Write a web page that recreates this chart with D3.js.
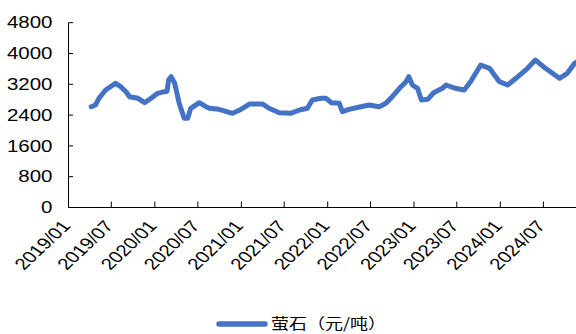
<!DOCTYPE html>
<html>
<head>
<meta charset="utf-8">
<script src="https://cdn.jsdelivr.net/npm/d3@7"></script>
<style>
  html, body { margin: 0; padding: 0; background: #fff; }
  svg { display: block; }
  text { font-family: Arial, "Liberation Sans", sans-serif; fill: #000; }
</style>
</head>
<body>
<svg id="chart" width="576" height="334"></svg>
<script>
// Fluorite price (yuan/ton), observation dates and values
const dates = [
  "2019-04-07","2019-04-25","2019-05-10","2019-06-07","2019-07-19","2019-08-10",
  "2019-09-01","2019-09-16","2019-10-22","2019-11-19","2019-12-16","2020-01-13",
  "2020-02-10","2020-02-22","2020-02-28","2020-03-10","2020-03-25","2020-04-13",
  "2020-05-04","2020-05-19","2020-06-01","2020-07-07","2020-08-04","2020-08-19",
  "2020-09-28","2020-11-25","2020-12-25","2021-02-04","2021-04-01","2021-04-28",
  "2021-06-10","2021-07-28","2021-09-04","2021-10-07","2021-10-28","2021-12-04",
  "2021-12-25","2022-01-16","2022-02-19","2022-03-04","2022-04-01","2022-05-01",
  "2022-06-25","2022-08-07","2022-09-04","2022-10-01","2022-11-07","2022-11-28",
  "2022-12-10","2022-12-25","2023-01-16","2023-02-01","2023-02-28","2023-03-25",
  "2023-05-01","2023-05-16","2023-06-25","2023-08-01","2023-08-28","2023-10-10",
  "2023-11-16","2023-12-28","2024-02-01","2024-03-07","2024-04-25","2024-05-28",
  "2024-07-10","2024-09-07","2024-10-10","2024-11-10","2024-11-25"
];
const prices = [
  2618,2662,2836,3052,3226,3138,
  3008,2878,2836,2722,2836,2966,
  3008,3020,3312,3397,3226,2706,
  2317,2317,2577,2722,2618,2577,
  2550,2447,2532,2688,2688,2577,
  2462,2447,2532,2577,2792,2836,
  2836,2722,2706,2488,2550,2592,
  2662,2618,2706,2878,3138,3268,
  3397,3182,3096,2792,2810,2981,
  3096,3182,3096,3052,3268,3701,
  3615,3268,3182,3356,3615,3831,
  3615,3356,3486,3745,3800
];
const yTicks = [0, 800, 1600, 2400, 3200, 4000, 4800];
const xTickLabels = ["2019/01","2019/07","2020/01","2020/07","2021/01","2021/07",
                     "2022/01","2022/07","2023/01","2023/07","2024/01","2024/07"];
const seriesName = "萤石（元/吨）";

const parse = d3.timeParse("%Y-%m-%d");
const parseTick = d3.timeParse("%Y/%m");
const data = dates.map((d, i) => ({ date: parse(d), value: prices[i] }));

const svg = d3.select("#chart");
const stretch = 1.28; // horizontal widening of the text glyphs

const x = d3.scaleTime()
  .domain([new Date(2019, 0, 1), new Date(2025, 0, 1)])
  .range([68.5, 586.9]);
const y = d3.scaleLinear()
  .domain([0, 4800])
  .range([207.5, 22.7]);

// Axes
const axisColor = "#000";
svg.append("line")
  .attr("x1", x.range()[0]).attr("x2", 576)
  .attr("y1", y(0)).attr("y2", y(0))
  .attr("stroke", axisColor).attr("stroke-width", 1);
svg.append("line")
  .attr("x1", x.range()[0]).attr("x2", x.range()[0])
  .attr("y1", y(0)).attr("y2", y(4800))
  .attr("stroke", axisColor).attr("stroke-width", 1);

// Y ticks and labels
const yg = svg.append("g");
yTicks.forEach(t => {
  yg.append("line")
    .attr("x1", x.range()[0]).attr("x2", x.range()[0] + 4.5)
    .attr("y1", y(t)).attr("y2", y(t))
    .attr("stroke", axisColor);
  yg.append("text")
    .attr("transform", `translate(52.5,${y(t)}) scale(${stretch},1)`)
    .attr("text-anchor", "end")
    .attr("dy", "0.36em")
    .attr("font-size", 16)
    .text(d3.format("d")(t));
});

// X ticks and rotated labels
const xg = svg.append("g");
xTickLabels.forEach(lbl => {
  const xv = x(parseTick(lbl));
  xg.append("line")
    .attr("x1", xv).attr("x2", xv)
    .attr("y1", y(0)).attr("y2", y(0) - 6)
    .attr("stroke", axisColor);
  xg.append("text")
    .attr("transform", `translate(${xv + 3},${y(0) + 19}) scale(${stretch},1) rotate(-50)`)
    .attr("text-anchor", "end")
    .attr("font-size", 16)
    .text(lbl);
});

// Price line
const line = d3.line()
  .x(d => x(d.date))
  .y(d => y(d.value))
  .curve(d3.curveLinear);

svg.append("path")
  .datum(data)
  .attr("d", line)
  .attr("fill", "none")
  .attr("stroke", "#4472C4")
  .attr("stroke-width", 5)
  .attr("stroke-linejoin", "round")
  .attr("stroke-linecap", "round");

// Legend
const lg = svg.append("g").attr("transform", "translate(0,324)");
lg.append("line")
  .attr("x1", 219).attr("x2", 265)
  .attr("y1", 0).attr("y2", 0)
  .attr("stroke", "#4472C4")
  .attr("stroke-width", 5.5)
  .attr("stroke-linecap", "round");
lg.append("text")
  .attr("transform", `translate(271,0) scale(1.2,1)`)
  .attr("dy", "0.36em")
  .attr("font-size", 15)
  .style("font-family", "'Noto Sans CJK SC', sans-serif")
  .text(seriesName);
</script>
</body>
</html>
